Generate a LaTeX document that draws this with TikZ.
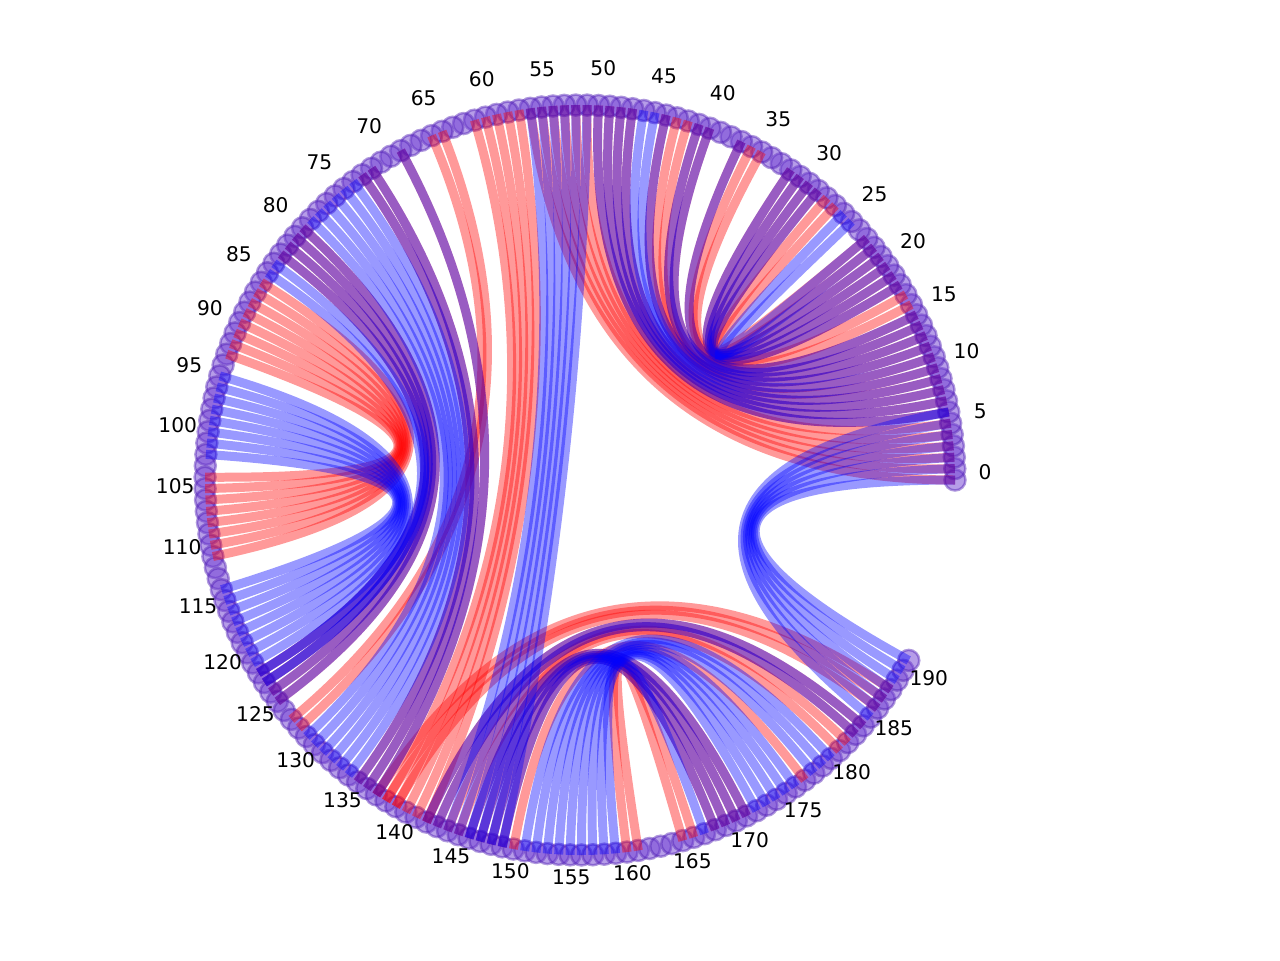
\documentclass[tikz,border=0pt]{standalone}
\usepackage{fontspec}
\setmainfont{DejaVu Sans}
\usetikzlibrary{calc}
\definecolor{ringcol}{RGB}{110,60,210}
\definecolor{ringedge}{RGB}{80,30,180}
\tikzset{
  nd/.style={circle, inner sep=0pt, minimum size=4.2mm, fill=ringcol, fill opacity=0.5,
    draw=ringedge, draw opacity=0.45, line width=0.5mm},
  chb/.style={draw=blue, draw opacity=0.4, line width=1.8mm},
  chr/.style={draw=red, draw opacity=0.4, line width=1.8mm},
  lbl/.style={font=\fontsize{11.5}{13}\selectfont, inner sep=0pt}
}

\begin{document}
\begin{tikzpicture}[x=0.02cm, y=-0.02cm]
\useasboundingbox (0,0) rectangle (1280,960);
\coordinate (c) at (580,480);
% ring of bases
\foreach \i in {0,...,190}
  \node[nd] (n\i) at ($(c)+(-1.7434*\i:375)$) {};
% labels every fifth base
\foreach \i in {0,5,...,190}
  \node[lbl] (l\i) at ($(580,472)+(-1.734*\i:405)$) {\i};
% red pairs: start/end/length of each stem
\foreach \i/\j/\len in {0/56/6, 6/50/4, 10/43/2, 12/44/1, 13/41/2, 15/37/1, 16/36/2, 18/32/4, 22/28/2,
    85/110/8, 79/124/4, 71/135/2, 64/127/2, 57/141/5, 68/136/1,
    136/187/2, 138/185/1, 141/183/2, 143/181/2, 145/170/4, 149/176/1, 159/165/2} {
  \foreach \k in {1,...,\len} {
    \pgfmathtruncatemacro\a{\i+\k-1}
    \pgfmathtruncatemacro\b{\j-\k+1}
    \draw[chr] (n\a.center) .. controls ($(n\a.center)!2/3!(c)$) and ($(n\b.center)!2/3!(c)$) .. (n\b.center);
  }
}
% blue pairs
\foreach \i/\j/\len in {0/190/7, 6/50/4, 10/46/2, 12/44/1, 13/41/2, 15/37/1, 18/32/4, 22/26/2,
    94/120/8, 79/124/4, 83/122/2, 73/133/6, 71/135/2, 68/136/1, 51/148/6,
    141/183/2, 145/170/4, 150/179/3, 153/175/5, 158/166/1} {
  \foreach \k in {1,...,\len} {
    \pgfmathtruncatemacro\a{\i+\k-1}
    \pgfmathtruncatemacro\b{\j-\k+1}
    \draw[chb] (n\a.center) .. controls ($(n\a.center)!2/3!(c)$) and ($(n\b.center)!2/3!(c)$) .. (n\b.center);
  }
}
\end{tikzpicture}
\end{document}
